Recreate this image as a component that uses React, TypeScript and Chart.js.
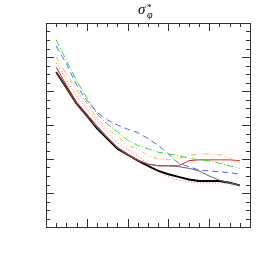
import React, { useEffect, useRef } from "react";
import { Chart, registerables } from "chart.js";

Chart.register(...registerables);

const xPositions = [1, 2, 3, 4, 5, 6, 7, 8, 9, 10, 11, 12, 13, 14, 15, 16, 17, 18, 19];
const blackVals = [18.2, 16.4, 14.5, 13.1, 11.6, 10.4, 9.2, 8.5, 7.8, 7.2, 6.6, 6.2, 5.9, 5.6, 5.4, 5.4, 5.4, 5.2, 4.9];
const grayVals = [18.2, 16.4, 14.5, 13.1, 11.7, 10.5, 9.3, 8.5, 7.8, 7.4, 7.2, 7.2, 7.1, 6.9, 6.6, 6.0, 5.5, 5.2, 4.9];
const redVals = [18.8, 16.7, 14.7, 13.3, 11.9, 10.6, 9.4, 8.6, 7.9, 7.4, 7.2, 7.2, 7.2, 7.8, 7.9, 7.9, 7.9, 7.9, 7.8];
const redDotVals = [19.3, 17.3, 15.4, 13.9, 12.5, 11.2, 9.9, 9.1, 8.4, 7.4, 6.5, 5.9, 5.5, 5.3, 5.2, 5.2, 5.2, 5.1, 4.8];
const orangeVals = [20.0, 18.0, 16.1, 14.6, 12.8, 11.6, 10.7, 9.6, 9.2, 8.4, 8.0, 7.9, 8.1, 8.4, 8.6, 8.6, 8.5, 8.1, 7.6];
const greenVals = [22.0, 19.6, 17.2, 15.2, 13.3, 12.1, 11.2, 10.2, 9.6, 9.2, 8.8, 8.6, 8.4, 8.1, 7.9, 7.8, 7.5, 7.2, 6.9];
const blueVals = [21.3, 19.2, 16.7, 14.9, 13.5, 12.6, 12.0, 11.5, 11.1, 10.4, 9.6, 8.6, 7.5, 7.1, 6.7, 6.6, 6.5, 6.4, 6.2];

const X_MIN = 0, X_MAX = 20, X_MAJOR = 4;
const Y_MIN = 0, Y_MAX = 24, Y_MAJOR = 4;

const pts = (vals: number[]) => vals.map((v, i) => ({ x: xPositions[i], y: v }));

const frameTicks = {
  id: "frameTicks",
  afterDatasetsDraw(chart: any) {
    const { ctx, chartArea: a, scales } = chart;
    const xs = scales.x, ys = scales.y;
    ctx.save();
    ctx.strokeStyle = "#333";
    ctx.lineWidth = 1;
    const seg = (x1: number, y1: number, x2: number, y2: number) => {
      ctx.beginPath(); ctx.moveTo(x1, y1); ctx.lineTo(x2, y2); ctx.stroke();
    };
    for (let v = X_MIN; v <= X_MAX; v++) {
      const px = Math.round(xs.getPixelForValue(v)) + 0.5;
      const len = v % X_MAJOR === 0 ? 8 : 4;
      seg(px, a.bottom, px, a.bottom - len);
      seg(px, a.top, px, a.top + len);
    }
    for (let v = Y_MIN; v <= Y_MAX; v++) {
      const py = Math.round(ys.getPixelForValue(v)) + 0.5;
      const len = v % Y_MAJOR === 0 ? 8 : 4;
      seg(a.left, py, a.left + len, py);
      seg(a.right, py, a.right - len, py);
    }
    ctx.strokeRect(Math.round(a.left) + 0.5, Math.round(a.top) + 0.5, Math.round(a.right - a.left), Math.round(a.bottom - a.top));
    // title
    const cx = (a.left + a.right) / 2;
    ctx.fillStyle = "#000";
    ctx.textBaseline = "alphabetic";
    ctx.textAlign = "left";
    ctx.font = "italic 15px 'Liberation Serif', serif";
    ctx.fillText("σ", cx - 10, 14);
    ctx.font = "9px 'Liberation Serif', serif";
    ctx.fillText("*", cx - 1, 10);
    ctx.font = "italic 10px 'Liberation Serif', serif";
    ctx.fillText("φ", cx - 1, 18);
    ctx.restore();
  },
};

export default function App() {
  const ref = useRef<HTMLCanvasElement>(null);
  useEffect(() => {
    document.body.style.margin = "0";
    const mk = (label: string, vals: number[], color: string, width: number, dash: number[]) => ({
      label, data: pts(vals), borderColor: color, borderWidth: width, borderDash: dash,
      pointRadius: 0, tension: 0, fill: false,
    });
    const chart = new Chart(ref.current!, {
      type: "line",
      data: {
        datasets: [
          mk("blue", blueVals, "#5a5aff", 1, [6, 4]),
          mk("green", greenVals, "#33dd33", 1, [7, 2, 1, 2]),
          mk("orange", orangeVals, "#ffb347", 1, [5, 2, 1, 2, 1, 2]),
          mk("redDot", redDotVals, "#ff6060", 1, [1, 2]),
          mk("gray", grayVals, "#666666", 1, []),
          mk("red", redVals, "#ee2222", 1, []),
          mk("black", blackVals, "#000000", 2, []),
        ],
      },
      options: {
        animation: false,
        responsive: false,
        maintainAspectRatio: false,
        layout: { padding: { left: 46, top: 23, right: 23, bottom: 46 } },
        plugins: { legend: { display: false }, tooltip: { enabled: false }, title: { display: false } },
        scales: {
          x: { type: "linear", min: X_MIN, max: X_MAX, display: false },
          y: { type: "linear", min: Y_MIN, max: Y_MAX, display: false },
        },
      },
      plugins: [frameTicks],
    });
    return () => chart.destroy();
  }, []);
  return (
    <div style={{ width: 273, height: 273 }}>
      <canvas ref={ref} width={273} height={273} />
    </div>
  );
}
